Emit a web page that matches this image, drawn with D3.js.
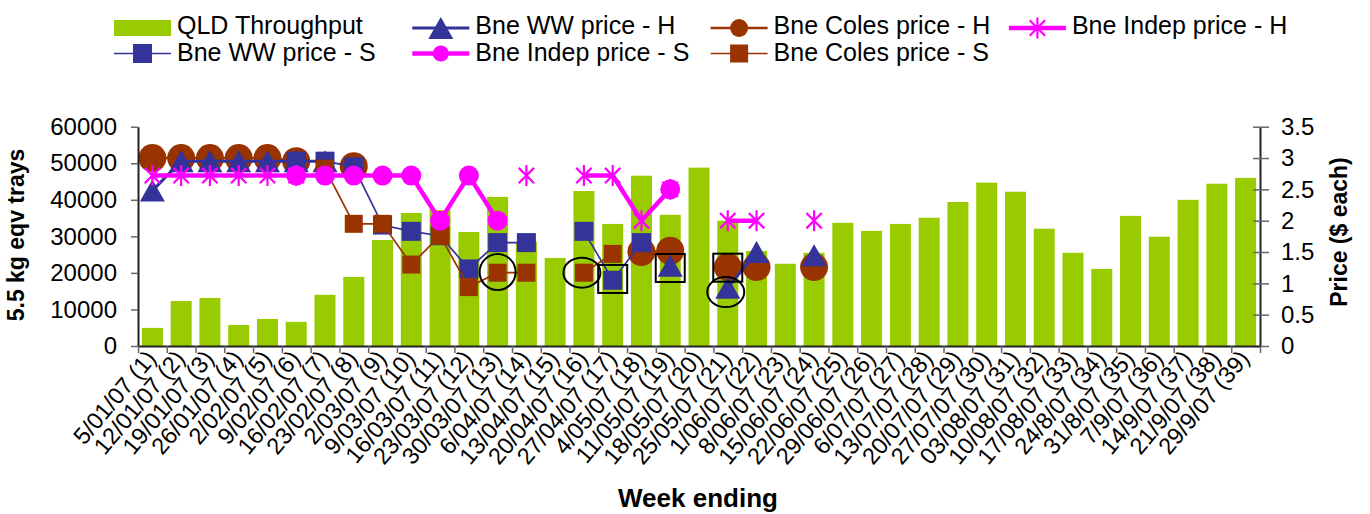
<!DOCTYPE html>
<html>
<head>
<meta charset="utf-8">
<script src="https://cdn.jsdelivr.net/npm/d3@7"></script>
<style>
  body { margin: 0; background: #fff; }
  svg { font-family: "Liberation Sans", Arial, sans-serif; }
</style>
</head>
<body>
<svg id="chart" width="1370" height="514"></svg>
<script>
// weekly data
const weeks = ["5/01/07 (1)", "12/01/07 (2)", "19/01/07 (3)", "26/01/07 (4)", "2/02/07 (5)", "9/02/07 (6)",
  "16/02/07 (7)", "23/02/07 (8)", "2/03/07 (9)", "9/03/07 (10)", "16/03/07 (11)", "23/03/07 (12)",
  "30/03/07 (13)", "6/04/07 (14)", "13/04/07 (15)", "20/04/07 (16)", "27/04/07 (17)", "4/05/07 (18)",
  "11/05/07 (19)", "18/05/07 (20)", "25/05/07 (21)", "1/06/07 (22)", "8/06/07 (23)", "15/06/07 (24)",
  "22/06/07 (25)", "29/06/07 (26)", "6/07/07 (27)", "13/07/07 (28)", "20/07/07 (29)", "27/07/07 (30)",
  "03/08/07 (31)", "10/08/07 (32)", "17/08/07 (33)", "24/8/07 (34)", "31/8/07 (35)", "7/9/07 (36)",
  "14/9/07 (37)", "21/9/07 (38)", "29/9/07 (39)"];

const throughput = [4950, 12300, 13150, 5750, 7400, 6600, 14000, 18900, 29000, 36400, 37200, 31200,
  40800, 28500, 24100, 42400, 33400, 46600, 35900, 48800, 34300, 26000, 22500, 25500,
  33700, 31500, 33400, 35100, 39400, 44700, 42200, 32100, 25500, 21100, 35600, 29900,
  40000, 44400, 46000];

const N = null;
const wwH    = [2.48, 2.95, 2.95, 2.95, 2.95, 2.95, 2.95, N, N, N, N, N, N, N, N, N, N, N, 1.28, N, 0.93, 1.5, N, 1.45,
  N, N, N, N, N, N, N, N, N, N, N, N, N, N, N];
const wwS    = [N, N, N, N, N, 2.95, 2.95, 2.86, 1.93, 1.83, 1.76, 1.23, 1.65, 1.65, N, 1.83, 1.05, 1.65, N, N, N, N, N, N,
  N, N, N, N, N, N, N, N, N, N, N, N, N, N, N];
const colesH = [3.0, 3.0, 3.0, 3.0, 3.0, 2.95, N, 2.87, N, N, N, N, N, N, N, N, N, 1.5, 1.52, N, 1.26, 1.26, N, 1.26,
  N, N, N, N, N, N, N, N, N, N, N, N, N, N, N];
const colesS = [N, N, N, N, N, N, 2.83, 1.95, 1.95, 1.3, 1.76, 0.94, 1.17, 1.17, N, 1.17, 1.47, N, N, N, N, N, N, N,
  N, N, N, N, N, N, N, N, N, N, N, N, N, N, N];
const indepS = [N, N, N, N, N, 2.72, 2.72, 2.72, 2.72, 2.72, 2.0, 2.72, 2.0, N, N, N, N, N, 2.5, N, N, N, N, N,
  N, N, N, N, N, N, N, N, N, N, N, N, N, N, N];
const indepH = [2.72, 2.72, 2.72, 2.72, 2.72, 2.72, N, N, N, N, N, N, N, 2.72, N, 2.72, 2.72, 2.0, 2.5, N, 2.0, 2.0, N, 2.0,
  N, N, N, N, N, N, N, N, N, N, N, N, N, N, N];

const volumeTicks = [0, 10000, 20000, 30000, 40000, 50000, 60000];
const priceTicks = [0, 0.5, 1, 1.5, 2, 2.5, 3, 3.5];

// hand-drawn highlight marks on the original (week index, price)
const highlights = [
  { i: 12, v: 1.18, shape: "circle" },
  { i: 15, v: 1.17, shape: "ellipse" },
  { i: 16, v: 1.07, shape: "rect" },
  { i: 18, v: 1.245, shape: "rect" },
  { i: 20, v: 1.25, shape: "rect" },
  { i: 20, v: 0.86, shape: "ellipse" }
];

const legendNames = ["QLD Throughput", "Bne WW price - H", "Bne Coles price - H", "Bne Indep price - H",
  "Bne WW price - S", "Bne Indep price - S", "Bne Coles price - S"];

// ---- layout
const plotLeft = 138, plotRight = 1260, plotTop = 126.7, plotBottom = 346;
const svg = d3.select("#chart");

const x = d3.scaleBand().domain(weeks).range([plotLeft, plotRight]).paddingInner(0.27).paddingOuter(0.135);
const cx = i => x(weeks[i]) + x.bandwidth() / 2;
const yL = d3.scaleLinear().domain([0, 60000]).range([plotBottom, plotTop]);
const yR = d3.scaleLinear().domain([0, 3.5]).range([plotBottom, plotTop]);

const styles = {
  "QLD Throughput":      { color: "#99CC00" },
  "Bne WW price - H":    { data: wwH,    color: "#333399", width: 3,   marker: "triangle", size: 12.5 },
  "Bne WW price - S":    { data: wwS,    color: "#333399", width: 1.7, marker: "square",   size: 9.5 },
  "Bne Coles price - H": { data: colesH, color: "#993300", width: 2.5, marker: "circle",   size: 14, legendSize: 9 },
  "Bne Coles price - S": { data: colesS, color: "#993300", width: 1.7, marker: "square",   size: 9 },
  "Bne Indep price - H": { data: indepH, color: "#FF00FF", width: 4.5, marker: "star",     size: 11 },
  "Bne Indep price - S": { data: indepS, color: "#FF00FF", width: 4.5, marker: "circle",   size: 10, legendSize: 8 }
};

function marker(g, st, px, py, s) {
  if (st.marker === "circle") {
    g.append("circle").attr("cx", px).attr("cy", py).attr("r", s).attr("fill", st.color);
  } else if (st.marker === "square") {
    g.append("rect").attr("x", px - s).attr("y", py - s).attr("width", 2 * s).attr("height", 2 * s).attr("fill", st.color);
  } else if (st.marker === "triangle") {
    const h = s * 0.88;
    g.append("path").attr("d", `M${px},${py - h}L${px + s},${py + h}L${px - s},${py + h}Z`).attr("fill", st.color);
  } else if (st.marker === "star") {
    const d = s * 0.7, v = s * 0.95;
    g.append("path")
      .attr("d", `M${px - d},${py - d}L${px + d},${py + d}M${px - d},${py + d}L${px + d},${py - d}M${px},${py - v}L${px},${py + v}`)
      .attr("stroke", st.color).attr("stroke-width", 2.2).attr("fill", "none");
  }
}

// bars
svg.append("g").selectAll("rect")
  .data(throughput)
  .join("rect")
  .attr("x", (d, i) => x(weeks[i]))
  .attr("y", d => yL(d))
  .attr("width", x.bandwidth())
  .attr("height", d => plotBottom - yL(d))
  .attr("fill", styles["QLD Throughput"].color);

// price series, drawn in this order
const drawOrder = ["Bne Coles price - H", "Bne WW price - H", "Bne WW price - S", "Bne Coles price - S",
  "Bne Indep price - H", "Bne Indep price - S"];

drawOrder.forEach(name => {
  const st = styles[name];
  const g = svg.append("g");
  const line = d3.line()
    .defined(d => d != null)
    .x((d, i) => cx(i))
    .y(d => yR(d));
  g.append("path")
    .attr("d", line(st.data))
    .attr("fill", "none")
    .attr("stroke", st.color)
    .attr("stroke-width", st.width);
  st.data.forEach((d, i) => { if (d != null) marker(g, st, cx(i), yR(d), st.size); });
});

// highlights
const hg = svg.append("g").attr("fill", "none").attr("stroke", "#000").attr("stroke-width", 2);
highlights.forEach(h => {
  const px = cx(h.i), py = yR(h.v);
  if (h.shape === "circle") hg.append("ellipse").attr("cx", px).attr("cy", py).attr("rx", 18).attr("ry", 18);
  else if (h.shape === "ellipse") hg.append("ellipse").attr("cx", px - 2).attr("cy", py).attr("rx", 18.5).attr("ry", 15);
  else hg.append("rect").attr("x", px - 14.5).attr("y", py - 14).attr("width", 29).attr("height", 28);
});

// axes
const axL = svg.append("g").attr("transform", `translate(${plotLeft},0)`)
  .call(d3.axisLeft(yL).tickValues(volumeTicks).tickSize(7).tickPadding(14).tickSizeOuter(0).tickFormat(d3.format("d")));
const axR = svg.append("g").attr("transform", `translate(${plotRight},0)`)
  .call(d3.axisRight(yR).tickValues(priceTicks).tickSize(9).tickPadding(12).tickSizeOuter(0).tickFormat(d => String(d)));
axR.selectAll(".tick line").attr("x1", -7);

const xi = d3.scaleLinear().domain([0, weeks.length]).range([plotLeft, plotRight]);
const axB = svg.append("g").attr("transform", `translate(0,${plotBottom})`)
  .call(d3.axisBottom(xi).tickValues(d3.range(weeks.length + 1)).tickSize(7).tickSizeOuter(0).tickFormat(""));

[axL, axR, axB].forEach(a => {
  a.select(".domain").attr("stroke", "#222").attr("stroke-width", 2);
  a.selectAll(".tick line").attr("stroke", "#666").attr("stroke-width", 1.5);
  a.selectAll(".tick text").attr("font-size", 24).attr("fill", "#000").attr("font-family", "Liberation Sans, Arial, sans-serif");
});

// week labels
svg.append("g").selectAll("text")
  .data(weeks)
  .join("text")
  .attr("transform", (d, i) => `translate(${cx(i) + 5},${359}) rotate(-50)`)
  .attr("text-anchor", "end")
  .attr("font-size", 23.5)
  .text(d => d);

// axis titles
svg.append("text").attr("transform", "translate(24,235) rotate(-90)")
  .attr("text-anchor", "middle").attr("font-weight", "bold").attr("font-size", 23).text("5.5 kg eqv trays");
svg.append("text").attr("transform", "translate(1347,232) rotate(-90)")
  .attr("text-anchor", "middle").attr("font-weight", "bold").attr("font-size", 23).text("Price ($ each)");
svg.append("text").attr("x", 698).attr("y", 507)
  .attr("text-anchor", "middle").attr("font-weight", "bold").attr("font-size", 26).text("Week ending");

// legend
const lg = svg.append("g");
legendNames.forEach((name, k) => {
  const row = k < 4 ? 0 : 1, col = k < 4 ? k : k - 4;
  const x0 = 114 + col * 298.3;
  const ly = 28 + row * 25.5;
  const st = styles[name];
  if (name === "QLD Throughput") {
    lg.append("rect").attr("x", x0).attr("y", ly - 8).attr("width", 57).attr("height", 16).attr("fill", st.color);
  } else {
    lg.append("line").attr("x1", x0).attr("x2", x0 + 57).attr("y1", ly).attr("y2", ly)
      .attr("stroke", st.color).attr("stroke-width", st.width);
    marker(lg, st, x0 + 28.5, ly, st.legendSize || st.size);
  }
  lg.append("text").attr("x", x0 + 63).attr("y", ly + 6 + row * 1.5).attr("font-size", 25).text(name);
});
</script>
</body>
</html>
